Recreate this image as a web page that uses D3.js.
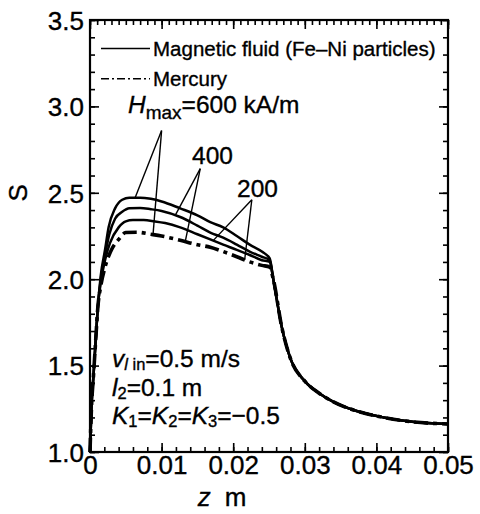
<!DOCTYPE html>
<html><head><meta charset="utf-8">
<script src="https://cdn.jsdelivr.net/npm/d3@7"></script>
<style>
html,body{margin:0;padding:0;background:#fff;}
svg text{font-family:"Liberation Sans",Arial,Helvetica,sans-serif;fill:#000;stroke:#000;stroke-width:0.35px;}
</style></head>
<body><svg id="c" width="480" height="514"></svg>
<script>
// ---- data ----
const riseCommon = [[0,1.0],[0.0002,1.25],[0.0005,1.45],[0.0008,1.65],[0.0011,1.84]];
const fluid600 = [[0.0015,2.02],[0.0021,2.17],[0.0026,2.30],[0.0035,2.41],[0.0045,2.46],[0.0055,2.472],[0.007,2.472],[0.0085,2.465],[0.010,2.45],[0.0126,2.41],[0.015,2.37],[0.0168,2.33],[0.0186,2.30],[0.0205,2.25],[0.0223,2.20],[0.024,2.16],[0.0251,2.12]];
const fluid400 = [[0.0015,2.00],[0.0021,2.14],[0.0027,2.26],[0.0035,2.35],[0.0045,2.39],[0.0055,2.41],[0.007,2.412],[0.0085,2.405],[0.010,2.395],[0.0126,2.36],[0.015,2.31],[0.0168,2.27],[0.0186,2.24],[0.0205,2.20],[0.0223,2.16],[0.024,2.13],[0.0251,2.11]];
const fluid200 = [[0.0015,1.98],[0.0021,2.11],[0.0028,2.21],[0.0040,2.30],[0.0050,2.335],[0.006,2.342],[0.0075,2.342],[0.009,2.335],[0.0105,2.325],[0.0126,2.30],[0.015,2.26],[0.0168,2.23],[0.0186,2.20],[0.0205,2.17],[0.0223,2.14],[0.024,2.11],[0.0251,2.10]];
const mercury = [[0.0015,1.96],[0.0021,2.07],[0.0030,2.17],[0.0040,2.23],[0.0050,2.27],[0.0065,2.272],[0.0085,2.26],[0.010,2.25],[0.0126,2.225],[0.015,2.20],[0.0168,2.185],[0.0186,2.16],[0.0205,2.13],[0.0223,2.10],[0.024,2.08],[0.0251,2.07]];
const tailCommon = [[0.0256,2.0],[0.0268,1.72],[0.028,1.54],[0.030,1.41],[0.032,1.34],[0.034,1.29],[0.037,1.24],[0.041,1.20],[0.045,1.175],[0.050,1.162]];

const xTicks = [0,0.01,0.02,0.03,0.04,0.05];
const xTickLabels = ["0","0.01","0.02","0.03","0.04","0.05"];
const yTicks = [1.0,1.5,2.0,2.5,3.0,3.5];
const yTickLabels = ["1.0","1.5","2.0","2.5","3.0","3.5"];

// leaders: apex [z,S], targets as [series, z]
const leader600 = {apex:[0.0100,2.86], targets:[["f600",0.0063],["hg",0.0088]]};
const leader400 = {apex:[0.0154,2.64], targets:[["f400",0.0119],["hg",0.0133]]};
const leader200 = {apex:[0.0226,2.46], targets:[["f200",0.0172],["hg",0.0216]]};

// ---- layout ----
const L=90, R=448, T=20, B=452;
const svg = d3.select("#c");
const x = d3.scaleLinear().domain([0,0.05]).range([L,R]);
const y = d3.scaleLinear().domain([1.0,3.5]).range([B,T]);

const series = {
  f600: riseCommon.concat(fluid600, tailCommon),
  f400: riseCommon.concat(fluid400, tailCommon),
  f200: riseCommon.concat(fluid200, tailCommon),
  hg: riseCommon.concat(mercury, tailCommon)
};
const interp = (arr, z) => {
  for (let i=1;i<arr.length;i++){ if (arr[i][0]>=z){ const a=arr[i-1],b=arr[i]; return a[1]+(b[1]-a[1])*(z-a[0])/(b[0]-a[0]); } }
  return arr[arr.length-1][1];
};

// axes (ticks inward)
const fs = 26;
const minorX = d3.range(0,0.0501,0.002);
const minorXTop = d3.range(0,0.0501,0.001);
const minorY = d3.range(1.0,3.501,0.1);

function ax(gen, tr){ return svg.append("g").attr("transform",tr).call(gen); }
ax(d3.axisBottom(x).tickValues(minorX).tickSize(-5).tickFormat(""), `translate(0,${B})`);
ax(d3.axisTop(x).tickValues(minorXTop).tickSize(-5).tickFormat(""), `translate(0,${T})`);
ax(d3.axisLeft(y).tickValues(minorY).tickSize(-5).tickFormat(""), `translate(${L},0)`);
ax(d3.axisRight(y).tickValues(minorY).tickSize(-5).tickFormat(""), `translate(${R},0)`);
const gx = ax(d3.axisBottom(x).tickValues(xTicks).tickSize(-9).tickPadding(4).tickFormat((d,i)=>xTickLabels[i]), `translate(0,${B})`);
ax(d3.axisTop(x).tickValues(xTicks).tickSize(-9).tickFormat(""), `translate(0,${T})`);
const gy = ax(d3.axisLeft(y).tickValues(yTicks).tickSize(-9).tickPadding(6).tickFormat((d,i)=>yTickLabels[i]), `translate(${L},0)`);
ax(d3.axisRight(y).tickValues(yTicks).tickSize(-9).tickFormat(""), `translate(${R},0)`);
svg.selectAll(".domain").remove();
svg.selectAll(".tick line").attr("stroke","#000").attr("stroke-width",1.6);
svg.selectAll(".tick text").attr("font-size",fs).attr("font-family","Liberation Sans, Arial, sans-serif").attr("fill","#000");
gy.selectAll(".tick text").attr("dy","0.36em");

svg.append("rect").attr("x",L).attr("y",T).attr("width",R-L).attr("height",B-T)
  .attr("fill","none").attr("stroke","#000").attr("stroke-width",2.2);

// axis labels
svg.append("text").attr("x",222).attr("y",506).attr("text-anchor","middle").attr("font-size",fs)
  .html('<tspan font-style="italic">z</tspan><tspan dx="14">m</tspan>');
svg.append("text").attr("transform",`translate(27,${y(2.5)}) rotate(-90)`).attr("text-anchor","middle")
  .attr("font-size",fs).text("S");

// curves
const line = d3.line().x(d=>x(d[0])).y(d=>y(d[1])).curve(d3.curveMonotoneX);
["f600","f400","f200"].forEach(k=>{
  svg.append("path").attr("d",line(series[k])).attr("fill","none").attr("stroke","#000").attr("stroke-width",2.5).attr("stroke-linejoin","round");
});
svg.append("path").attr("d",line(series.hg)).attr("fill","none").attr("stroke","#000").attr("stroke-width",3.6)
  .attr("stroke-dasharray","14 5 4 5");

// leaders
[leader600,leader400,leader200].forEach(ld=>{
  ld.targets.forEach(([k,z])=>{
    svg.append("line").attr("x1",x(ld.apex[0])).attr("y1",y(ld.apex[1]))
      .attr("x2",x(z)).attr("y2",y(interp(series[k],z)))
      .attr("stroke","#000").attr("stroke-width",1.4);
  });
});

// annotations
svg.append("text").attr("x",128).attr("y",y(2.96)).attr("font-size",24.5)
  .html('<tspan font-style="italic">H</tspan><tspan font-size="19" dy="6">max</tspan><tspan dy="-6">=600 kA/m</tspan>');
svg.append("text").attr("x",192).attr("y",y(2.665)).attr("font-size",24.5).text("400");
svg.append("text").attr("x",237).attr("y",y(2.475)).attr("font-size",24.5).text("200");

svg.append("text").attr("x",112).attr("y",y(1.49)).attr("font-size",24.5)
  .html('<tspan font-style="italic">v</tspan><tspan font-size="16.5" dy="3"><tspan font-style="italic">l</tspan> in</tspan><tspan dy="-3">=0.5 m/s</tspan>');
svg.append("text").attr("x",112).attr("y",y(1.325)).attr("font-size",24.5)
  .html('<tspan font-style="italic">l</tspan><tspan font-size="16.5" dy="3">2</tspan><tspan dy="-3">=0.1 m</tspan>');
svg.append("text").attr("x",112).attr("y",y(1.16)).attr("font-size",24.5)
  .html('<tspan font-style="italic">K</tspan><tspan font-size="16.5" dy="3">1</tspan><tspan dy="-3">=</tspan><tspan font-style="italic">K</tspan><tspan font-size="16.5" dy="3">2</tspan><tspan dy="-3">=</tspan><tspan font-style="italic">K</tspan><tspan font-size="16.5" dy="3">3</tspan><tspan dy="-3">=−0.5</tspan>');

// legend
const lg = svg.append("g");
lg.append("line").attr("x1",101).attr("x2",150).attr("y1",y(3.335)).attr("y2",y(3.335)).attr("stroke","#000").attr("stroke-width",1.5);
lg.append("text").attr("x",153).attr("y",y(3.335)).attr("dy","0.35em").attr("font-size",20.5).text("Magnetic fluid (Fe–Ni particles)");
lg.append("line").attr("x1",101).attr("x2",150).attr("y1",y(3.16)).attr("y2",y(3.16)).attr("stroke","#000").attr("stroke-width",1.5)
  .attr("stroke-dasharray","8 3 2 3");
lg.append("text").attr("x",153).attr("y",y(3.16)).attr("dy","0.35em").attr("font-size",20.5).text("Mercury");
</script></body></html>
